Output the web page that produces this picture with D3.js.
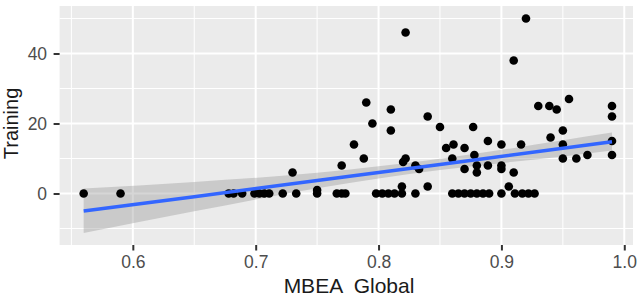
<!DOCTYPE html>
<html>
<head>
<meta charset="utf-8">
<script src="https://cdn.jsdelivr.net/npm/d3@7"></script>
<style>
  html, body { margin: 0; padding: 0; background: #fff; }
  svg { display: block; }
  text { font-family: "Liberation Sans", Arial, sans-serif; }
</style>
</head>
<body>
<svg id="chart" width="644" height="308"></svg>
<script>
// ---- data ----
const mbeaGlobal = [
  0.560, 0.590, 0.678, 0.682, 0.689, 0.699, 0.703, 0.707, 0.711, 0.722,
  0.733, 0.730, 0.750, 0.750, 0.766, 0.770, 0.773, 0.770, 0.780, 0.788,
  0.790, 0.795, 0.798, 0.803, 0.808, 0.813, 0.810, 0.810, 0.819, 0.819,
  0.820, 0.822, 0.822, 0.830, 0.830, 0.833, 0.840, 0.840, 0.850, 0.855,
  0.861, 0.860, 0.860, 0.865, 0.870, 0.870, 0.870, 0.875, 0.877, 0.878,
  0.880, 0.880, 0.880, 0.885, 0.889, 0.889, 0.890, 0.900, 0.900, 0.900,
  0.900, 0.906, 0.910, 0.910, 0.911, 0.917, 0.916, 0.920, 0.922, 0.927,
  0.930, 0.939, 0.945, 0.940, 0.950, 0.950, 0.950, 0.955, 0.961, 0.970,
  0.990, 0.990, 0.990, 0.990
];
const training = [
  0, 0, 0, 0, 0, 0, 0, 0, 0, 0,
  0, 6, 0, 1, 0, 0, 0, 8, 14, 10,
  26, 20, 0, 0, 0, 0, 24, 18, 0, 2,
  9, 10, 46, 0, 8, 7, 22, 2, 19, 13,
  14, 10, 0, 0, 0, 13, 7, 0, 19, 11,
  8, 6, 0, 0, 15, 8, 0, 14, 8, 7,
  0, 2, 6, 38, 0, 0, 14, 50, 0, 0,
  25, 25, 24, 16, 18, 14, 10, 27, 10, 11,
  25, 22, 15, 11
];
// linear smooth (geom_smooth, method = "lm")
const smoothX  = [0.56, 0.65, 0.75, 0.85, 0.95, 0.99];
const smoothY  = [-5.0, -0.9, 3.7, 8.3, 12.9, 14.8];
const smoothLo = [-11.3, -5.1, 1.5, 6.7, 10.6, 12.3];
const smoothHi = [1.4, 3.3, 5.9, 9.9, 15.2, 17.4];

const xTicks = [0.6, 0.7, 0.8, 0.9, 1.0];
const xTickLabels = ["0.6", "0.7", "0.8", "0.9", "1.0"];
const xMinor = [0.55, 0.65, 0.75, 0.85, 0.95];
const yTicks = [0, 20, 40];
const yTickLabels = ["0", "20", "40"];
const yMinor = [-10, 10, 30, 50];
const xTitle = "MBEA  Global";
const yTitle = "Training";

// ---- layout ----
const svg = d3.select("#chart");
const P = { left: 59.6, right: 633, top: 6, bottom: 245 };
const x = d3.scaleLinear().domain([0.5404, 1.0071]).range([P.left, P.right]);
const y = d3.scaleLinear().domain([-14.71, 53.57]).range([P.bottom, P.top]);

// panel
svg.append("rect").attr("x", P.left).attr("y", P.top)
  .attr("width", P.right - P.left).attr("height", P.bottom - P.top)
  .attr("fill", "#EBEBEB");

const grid = svg.append("g");
grid.selectAll(".vmin").data(xMinor).join("line")
  .attr("x1", d => x(d)).attr("x2", d => x(d)).attr("y1", P.top).attr("y2", P.bottom)
  .attr("stroke", "#fff").attr("stroke-width", 1);
grid.selectAll(".hmin").data(yMinor).join("line")
  .attr("y1", d => y(d)).attr("y2", d => y(d)).attr("x1", P.left).attr("x2", P.right)
  .attr("stroke", "#fff").attr("stroke-width", 1);
grid.selectAll(".vmaj").data(xTicks).join("line")
  .attr("x1", d => x(d)).attr("x2", d => x(d)).attr("y1", P.top).attr("y2", P.bottom)
  .attr("stroke", "#fff").attr("stroke-width", 2);
grid.selectAll(".hmaj").data(yTicks).join("line")
  .attr("y1", d => y(d)).attr("y2", d => y(d)).attr("x1", P.left).attr("x2", P.right)
  .attr("stroke", "#fff").attr("stroke-width", 2);

// ---- confidence band ----
const band = smoothX.map((d, i) => ({ x: d, y: smoothY[i], lo: smoothLo[i], hi: smoothHi[i] }));
svg.append("path").datum(band)
  .attr("d", d3.area().x(d => x(d.x)).y0(d => y(d.lo)).y1(d => y(d.hi)).curve(d3.curveMonotoneX))
  .attr("fill", "#999999").attr("fill-opacity", 0.4);

// points
svg.append("g").selectAll("circle").data(mbeaGlobal).join("circle")
  .attr("cx", d => x(d)).attr("cy", (d, i) => y(training[i]))
  .attr("r", 4.3).attr("fill", "#000");

// fit line
svg.append("path").datum(band)
  .attr("d", d3.line().x(d => x(d.x)).y(d => y(d.y)))
  .attr("fill", "none").attr("stroke", "#3366FF").attr("stroke-width", 3.5);

// ---- axes ----
const xAxis = svg.append("g").attr("transform", `translate(0,${P.bottom})`)
  .call(d3.axisBottom(x).tickValues(xTicks).tickFormat((d, i) => xTickLabels[i])
    .tickSize(5.5).tickPadding(6));
const yAxis = svg.append("g").attr("transform", `translate(${P.left},0)`)
  .call(d3.axisLeft(y).tickValues(yTicks).tickFormat((d, i) => yTickLabels[i])
    .tickSize(6).tickPadding(6));
[xAxis, yAxis].forEach(g => {
  g.select(".domain").remove();
  g.selectAll(".tick line").attr("stroke", "#333").attr("stroke-width", 2);
  g.selectAll(".tick text").attr("fill", "#4D4D4D")
    .style("font-size", "17.5px").style("font-family", '"Liberation Sans", Arial, sans-serif');
});
xAxis.selectAll(".tick text").attr("dy", null).attr("y", 23);
yAxis.selectAll(".tick text").attr("x", -12.5);

svg.append("text").attr("x", 349).attr("y", 292.5)
  .attr("text-anchor", "middle").attr("fill", "#1a1a1a")
  .attr("xml:space", "preserve").style("white-space", "pre")
  .style("font-size", "21px").text(xTitle);
svg.append("text").attr("transform", "translate(18,123.5) rotate(-90)")
  .attr("text-anchor", "middle").attr("fill", "#1a1a1a")
  .style("font-size", "20px").text(yTitle);
</script>
</body>
</html>
